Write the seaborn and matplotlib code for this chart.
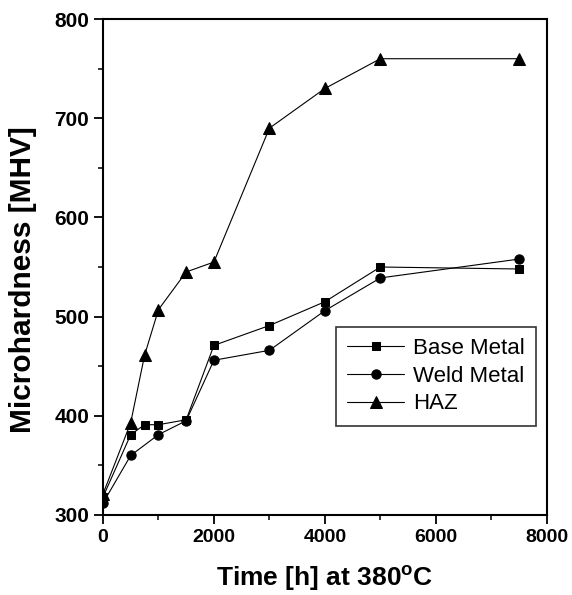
import numpy as np
import pandas as pd
import matplotlib
matplotlib.use("Agg")
import matplotlib.pyplot as plt
import seaborn as sns
from matplotlib.ticker import MultipleLocator

sns.set_style("ticks", {"text.color": "black", "axes.labelcolor": "black",
                        "xtick.color": "black", "ytick.color": "black",
                        "axes.edgecolor": "black"})
plt.rcParams['font.family'] = ['Liberation Sans', 'DejaVu Sans']
plt.rcParams['mathtext.fontset'] = 'custom'
plt.rcParams['mathtext.rm'] = 'Liberation Sans:bold'
plt.rcParams['mathtext.bf'] = 'Liberation Sans:bold'

# values
series_names = ["Base Metal", "Weld Metal", "HAZ"]
base_time = [0, 500, 750, 1000, 1500, 2000, 3000, 4000, 5000, 7500]
base_hv = [318, 381, 391, 391, 396, 471, 491, 515, 550, 548]
weld_time = [0, 500, 1000, 1500, 2000, 3000, 4000, 5000, 7500]
weld_hv = [312, 360, 381, 395, 456, 466, 506, 539, 558]
haz_time = [0, 500, 750, 1000, 1500, 2000, 3000, 4000, 5000, 7500]
haz_hv = [321, 393, 461, 507, 545, 555, 690, 730, 760, 760]

df = pd.concat([
    pd.DataFrame({"time": base_time, "hv": base_hv, "series": series_names[0]}),
    pd.DataFrame({"time": weld_time, "hv": weld_hv, "series": series_names[1]}),
    pd.DataFrame({"time": haz_time, "hv": haz_hv, "series": series_names[2]}),
], ignore_index=True)

fig = plt.figure(figsize=(5.72, 5.95), dpi=100)
ax = fig.add_axes([0.180, 0.1345, 0.776, 0.8335])

markers = {"Base Metal": "s", "Weld Metal": "o", "HAZ": "^"}
palette = {k: "black" for k in series_names}
sns.lineplot(data=df, x="time", y="hv", hue="series", style="series",
             markers=markers, dashes=False, palette=palette, linewidth=0.8,
             markersize=6.3, markeredgecolor="black", ax=ax, sort=False)

# marker sizes per shape
sizes = {"s": 6.0, "o": 6.7, "^": 8.2}
for line in ax.lines:
    m = line.get_marker()
    if m in sizes:
        line.set_markersize(sizes[m])

ax.set_xlim(0, 8000)
ax.set_ylim(300, 800)
ax.xaxis.set_major_locator(MultipleLocator(2000))
ax.xaxis.set_minor_locator(MultipleLocator(1000))
ax.yaxis.set_major_locator(MultipleLocator(100))
ax.yaxis.set_minor_locator(MultipleLocator(50))
ax.tick_params(which="major", direction="out", length=6.5, width=1.3,
               labelsize=14, colors="black")
ax.tick_params(axis="y", which="major", labelsize=15)
ax.tick_params(which="minor", direction="out", length=3.5, width=1.1,
               colors="black")
for lab in ax.get_xticklabels() + ax.get_yticklabels():
    lab.set_fontweight("bold")
for sp in ax.spines.values():
    sp.set_visible(True)
    sp.set_linewidth(1.5)
    sp.set_color("black")

ax.set_xlabel("Time [h] at 380$^{\\mathbf{o}}$C", fontsize=19,
              fontweight="bold", color="black")
ax.xaxis.set_label_coords(0.5, -0.097)
ax.set_ylabel("Microhardness [MHV]", fontsize=21.5, fontweight="bold",
              color="black")
ax.yaxis.set_label_coords(-0.149, 0.474)

leg = ax.legend(loc="upper left", bbox_to_anchor=(0.524, 0.379),
                fontsize=16, frameon=True, fancybox=False, shadow=False,
                handlelength=2.6, handletextpad=0.4, borderpad=0.5,
                labelspacing=0.3, borderaxespad=0, title=None)
leg.get_frame().set_edgecolor("black")
leg.get_frame().set_linewidth(1.2)
for t in leg.get_texts():
    t.set_color("black")

fig.savefig("out.png", dpi=100)
